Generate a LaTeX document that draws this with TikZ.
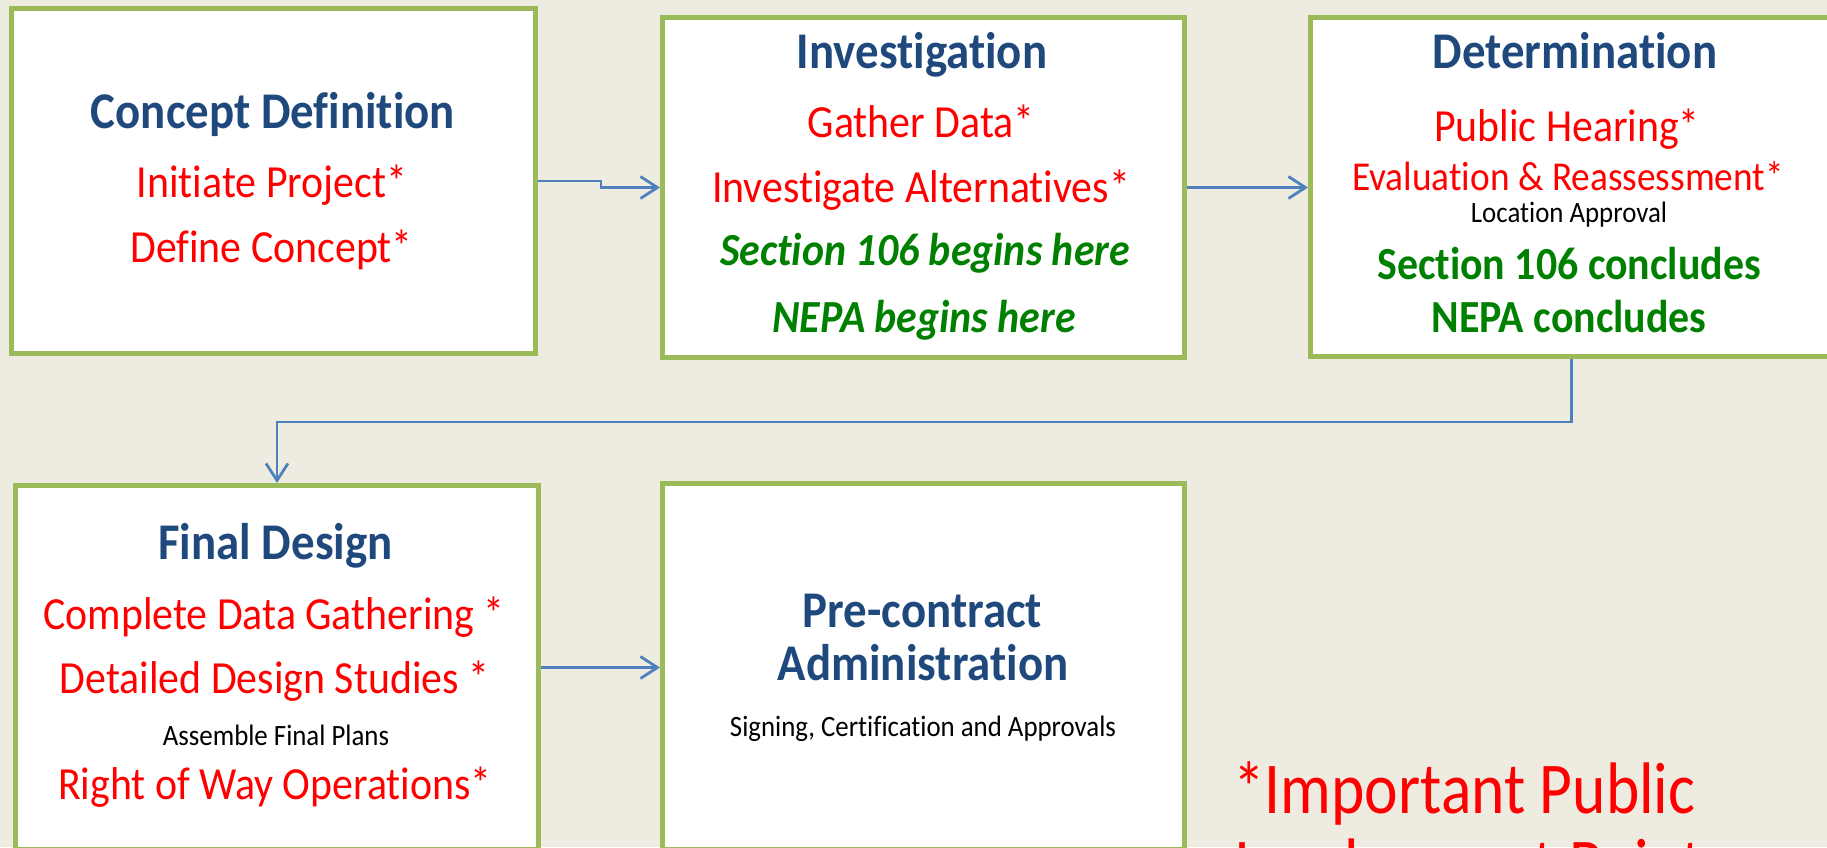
\documentclass[tikz,border=0pt]{standalone}
\usepackage{fontspec}
\setmainfont[FakeStretch=0.91,Ligatures=NoCommon]{Carlito}
\newfontfamily\footfont[FakeStretch=0.87,Ligatures=NoCommon]{Carlito}
\usetikzlibrary{arrows.meta}
\definecolor{bgc}{HTML}{EEECE1}
\definecolor{boxg}{HTML}{9BBB59}
\definecolor{ttlc}{HTML}{1F497D}
\definecolor{redc}{HTML}{FF0000}
\definecolor{grnc}{HTML}{008000}
\definecolor{arrc}{HTML}{4F81BD}
\begin{document}
\begin{tikzpicture}[x=1pt,y=-1pt,
  stage/.style={draw=boxg,line width=5pt,fill=white,rectangle,inner sep=0pt},
  txt/.style={anchor=base,inner sep=0pt},
  ttlt/.style={txt,text=ttlc,font=\fontsize{51.5}{60}\selectfont\bfseries},
  redt/.style={txt,text=redc,font=\fontsize{46}{54}\selectfont},
  grnt/.style={txt,text=grnc,font=\fontsize{46}{54}\selectfont\bfseries},
  grni/.style={grnt,font=\fontsize{46}{54}\selectfont\bfseries\itshape},
  blkt/.style={txt,text=black,font=\fontsize{29.5}{34}\selectfont},
  conn/.style={draw=arrc,line width=2.8pt,-{Straight Barb[length=17pt,width=22pt,line width=2.8pt]}}
]
\useasboundingbox (0,0) rectangle (1827,847);
\clip (0,0) rectangle (1827,847);
\fill[bgc] (0,0) rectangle (1827,847);

% boxes
\node[stage,minimum width=524pt,minimum height=345pt] (b1) at (273.5,181) {};
\node[stage,minimum width=522pt,minimum height=340pt] (b2) at (923.5,187.5) {};
\node[stage,minimum width=522pt,minimum height=339pt] (b3) at (1571.5,187) {};
\node[stage,minimum width=523pt,minimum height=364pt] (b4) at (277,667.5) {};
\node[stage,minimum width=522pt,minimum height=366pt] (b5) at (923.5,666.5) {};

% box 1
\node[ttlt] (t1) at (273,128) {Concept Definition};
\node[redt] (r11) at (272,197) {Initiate Project*};
\node[redt] (r12) at (271.5,262) {Define Concept*};

% box 2
\node[ttlt] (t2) at (922,68) {Investigation};
\node[redt] (r21) at (921,137) {Gather Data*};
\node[redt] (r22) at (921,202) {Investigate Alternatives*};
\node[grni] (g21) at (925,265) {Section 106 begins here};
\node[grni] (g22) at (924,332) {NEPA begins here};

% box 3
\node[ttlt] (t3) at (1575,68) {Determination};
\node[redt] (r31) at (1567,141) {Public Hearing*};
\node[redt,font=\fontsize{41}{48}\selectfont] (r32) at (1568,190) {Evaluation \& Reassessment*};
\node[blkt] (k31) at (1569,222) {Location Approval};
\node[grnt] (g31) at (1569,279) {Section 106 concludes};
\node[grnt] (g32) at (1569,332) {NEPA concludes};

% box 4
\node[ttlt] (t4) at (275.5,559) {Final Design};
\node[redt] (r41) at (274,629) {Complete Data Gathering *};
\node[redt] (r42) at (274.5,693) {Detailed Design Studies *};
\node[blkt] (k41) at (276,745) {Assemble Final Plans};
\node[redt] (r43) at (275,799) {Right of Way Operations*};

% box 5
\node[ttlt] (t5) at (922.5,627) {Pre-contract};
\node[ttlt] (t5b) at (923,680) {Administration};
\node[blkt] (k51) at (923,736) {Signing, Certification and Approvals};

% footnote (second line runs off the lower edge, as in the original)
\node[txt,anchor=base west,text=redc,font=\footfont\fontsize{73}{80}\selectfont] (f1) at (1233,813) {*Important Public};
\node[txt,anchor=base west,text=redc,font=\footfont\fontsize{73}{80}\selectfont] (f2) at (1234,889) {Involvement Points};

% connectors
\coordinate (j) at (601,0);
\coordinate (h) at (0,422);
\draw[conn] (b1.east) -- (b1.east -| j) -- (j |- b2.west) -- (b2.west);
\draw[conn] (b2.east) -- (b2.east -| b3.west);
\draw[conn] (b3.south) -- (b3.south |- h) -- (b4.north |- h) -- (b4.north);
\draw[conn] (b4.east) -- (b4.east -| b5.west);
\end{tikzpicture}
\end{document}
